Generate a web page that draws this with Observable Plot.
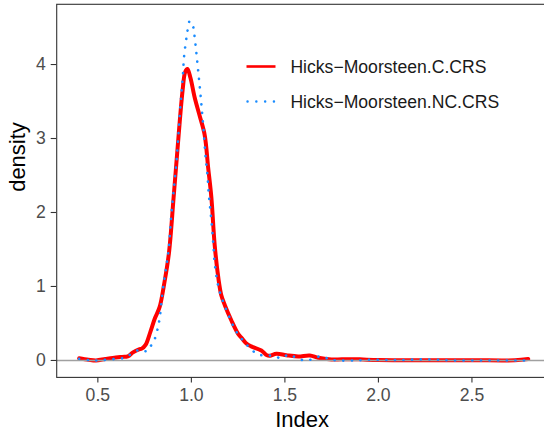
<!DOCTYPE html>
<html>
<head>
<meta charset="utf-8">
<script src="https://cdn.jsdelivr.net/npm/d3@7"></script>
<script src="https://cdn.jsdelivr.net/npm/@observablehq/plot@0.6"></script>
<style>
  html, body { margin: 0; padding: 0; background: #fff; }
  #wrap { position: relative; width: 544px; height: 433px; overflow: hidden; font-family: "Liberation Sans", Arial, Helvetica, sans-serif; }
  #wrap svg { max-width: none !important; }
  #legend { position: absolute; left: 0; top: 0; pointer-events: none; }
</style>
</head>
<body>
<div id="wrap"></div>
<script>
// ---- data ----
const seriesNames = ["Hicks\u2212Moorsteen.C.CRS", "Hicks\u2212Moorsteen.NC.CRS"];
const seriesColors = ["#ff0000", "#1a8cff"];

const indexC = [0.40,0.45,0.49,0.54,0.58,0.63,0.66,0.688,0.72,0.735,0.755,0.78,0.805,0.83,0.855,0.88,0.905,0.932,0.953,0.967,0.979,0.995,1.018,1.045,1.071,1.09,1.107,1.125,1.145,1.16,1.18,1.214,1.25,1.267,1.294,1.32,1.374,1.404,1.42,1.455,1.508,1.571,1.633,1.678,1.749,1.84,1.9,1.998,2.2,2.5,2.73,2.801];
const densC  = [0.03,0.01,0.0,0.02,0.035,0.048,0.055,0.11,0.15,0.16,0.21,0.38,0.57,0.72,1.04,1.45,2.2,3.05,3.65,3.9,3.94,3.82,3.55,3.3,3.05,2.6,2.2,1.55,1.1,0.88,0.74,0.54,0.36,0.31,0.23,0.19,0.135,0.07,0.065,0.09,0.07,0.054,0.068,0.036,0.014,0.018,0.015,0.005,0.003,0.003,0.003,0.02];

const indexNC = [0.40,0.45,0.49,0.59,0.643,0.68,0.724,0.765,0.79,0.809,0.822,0.83,0.84,0.852,0.866,0.879,0.893,0.907,0.92,0.932,0.94,0.948,0.955,0.961,0.973,0.979,0.991,1.005,1.015,1.025,1.035,1.046,1.055,1.065,1.076,1.086,1.093,1.102,1.111,1.118,1.125,1.139,1.16,1.196,1.235,1.276,1.312,1.357,1.40,1.442,1.481,1.52,1.561,1.606,1.651,1.695,1.74,1.784,1.87,1.97,2.1,2.25,2.4,2.6,2.801];
const densNC  = [0.022,0.005,0.0,0.02,0.036,0.09,0.145,0.126,0.23,0.32,0.46,0.56,0.79,1.04,1.27,1.51,1.98,2.34,2.68,3.1,3.4,3.65,3.87,4.11,4.35,4.45,4.585,4.55,4.42,4.2,3.95,3.67,3.42,3.12,2.75,2.5,2.25,2.02,1.78,1.54,1.31,1.06,0.86,0.63,0.41,0.27,0.17,0.08,0.07,0.06,0.03,0.08,0.036,0.0,0.02,0.06,0.014,0.0,0.0,0.01,0.005,0.015,0.0,0.0,0.0];

const xTicks = [0.5, 1.0, 1.5, 2.0, 2.5];
const yTicks = [0, 1, 2, 3, 4];

const dataC = indexC.map((x, i) => ({x, y: densC[i]}));
const dataNC = indexNC.map((x, i) => ({x, y: densNC[i]}));

const font = "'Liberation Sans', Arial, Helvetica, sans-serif";

const chart = Plot.plot({
  width: 550,
  height: 433,
  marginTop: 3.8,
  marginBottom: 56.1,
  marginLeft: 56.2,
  marginRight: 0,
  style: { fontFamily: font, background: "#fff", overflow: "visible", maxWidth: "none" },
  x: { domain: [0.28, 2.92] },
  y: { domain: [-0.229, 4.814] },
  marks: [
    Plot.line(dataC, { x: "x", y: "y", stroke: seriesColors[0], strokeWidth: 4, curve: "catmull-rom" }),
    Plot.ruleY([0], { stroke: "#a0a0a0", strokeWidth: 1.6 }),
    Plot.line(dataNC, { x: "x", y: "y", stroke: seriesColors[1], strokeWidth: 2.6, strokeDasharray: "0.1 8.5", strokeLinecap: "round", curve: "catmull-rom" }),
    Plot.frame({ stroke: "#333", strokeWidth: 1.1 }),
    Plot.axisX(xTicks, { tickSize: 5.5, tickPadding: 5.6, tickFormat: d3.format(".1f"), stroke: "#333", strokeWidth: 1.1, fill: "#4d4d4d", fontSize: 17.6, label: null }),
    Plot.axisY(yTicks, { tickSize: 5.5, tickPadding: 5.5, tickFormat: d3.format("d"), stroke: "#333", strokeWidth: 1.1, fill: "#4d4d4d", fontSize: 17.6, label: null }),
    Plot.text(["Index"], { frameAnchor: "bottom", dx: -1.5, dy: 49.8, lineAnchor: "bottom", fill: "#000", fontSize: 22 }),
    Plot.text(["density"], { frameAnchor: "left", dx: -32.2, dy: 1, rotate: -90, lineAnchor: "bottom", fill: "#000", fontSize: 22 })
  ]
});

const wrap = document.getElementById("wrap");
wrap.appendChild(chart);

// legend (inside panel, top right)
const ns = "http://www.w3.org/2000/svg";
const leg = document.createElementNS(ns, "svg");
leg.setAttribute("id", "legend");
leg.setAttribute("width", 544);
leg.setAttribute("height", 433);
const rowsY = [66.5, 101.5];
seriesNames.forEach((name, i) => {
  const l = document.createElementNS(ns, "line");
  l.setAttribute("x1", 246.5); l.setAttribute("x2", 275.5);
  l.setAttribute("y1", rowsY[i]); l.setAttribute("y2", rowsY[i]);
  l.setAttribute("stroke", seriesColors[i]);
  if (i === 0) {
    l.setAttribute("stroke-width", 2.6);
  } else {
    l.setAttribute("stroke-width", 2.4);
    l.setAttribute("stroke-dasharray", "0.1 8.7");
    l.setAttribute("stroke-linecap", "round");
    l.setAttribute("x1", 247.5);
  }
  leg.appendChild(l);
  const t = document.createElementNS(ns, "text");
  t.setAttribute("x", 290.4);
  t.setAttribute("y", rowsY[i] + 6.6);
  t.setAttribute("font-family", font);
  t.setAttribute("font-size", 17.6);
  t.setAttribute("fill", "#1a1a1a");
  t.textContent = name;
  leg.appendChild(t);
});
wrap.appendChild(leg);
</script>
</body>
</html>
